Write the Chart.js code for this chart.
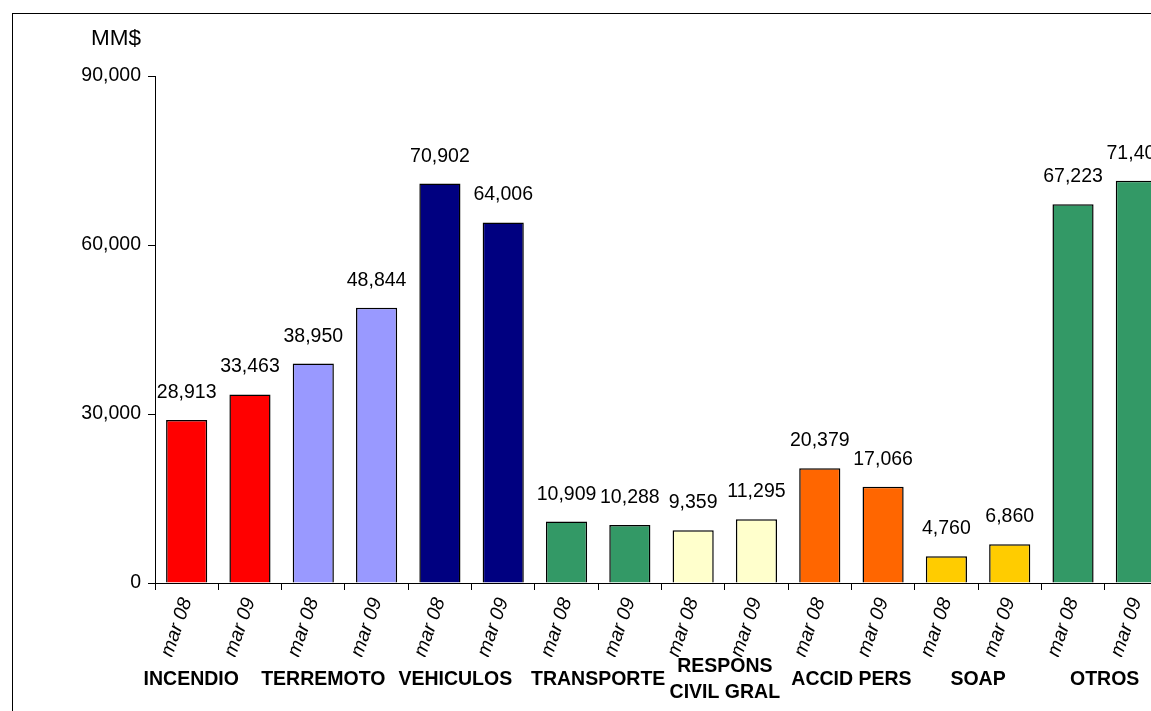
<!DOCTYPE html>
<html>
<head>
<meta charset="utf-8">
<script src="https://cdn.jsdelivr.net/npm/chart.js@4"></script>
<style>
  html, body { margin: 0; padding: 0; background: #fff; overflow: hidden; width: 1151px; height: 711px; }
  #frame { position: absolute; left: 12px; top: 13px; width: 1400px; height: 900px; border-left: 1px solid #000; border-top: 1px solid #000; }
  #wrap { position: absolute; left: 0; top: 0; width: 1180px; height: 711px; }
</style>
</head>
<body>
<div id="frame"></div>
<div id="wrap"><canvas id="chart"></canvas></div>
<script>
// ramos (groups), one pair of bars each
const groups = ['INCENDIO', 'TERREMOTO', 'VEHICULOS', 'TRANSPORTE', ['RESPONS', 'CIVIL GRAL'], 'ACCID PERS', 'SOAP', 'OTROS'];
const periods = ['mar 08', 'mar 09'];
const values = [28913, 33463, 38950, 48844, 70902, 64006, 10909, 10288, 9359, 11295, 20379, 17066, 4760, 6860, 67223, 71404];
const groupColors = ['#FF0000', '#9999FF', '#000080', '#339966', '#FFFFCC', '#FF6600', '#FFCC00', '#339966'];
const yTicks = [0, 30000, 60000, 90000];
// the first group names sit a bit left of their pair in the original
const groupShift = [10, 8, 6, 0, 0, 0, 0, 0];

const labels = [];
const colors = [];
groups.forEach((g, i) => {
    periods.forEach(p => {
        labels.push(p);
        colors.push(groupColors[i]);
    });
});
const groupLabels = groups.map((g, i) => Array.isArray(g) ? g : g + ' '.repeat(groupShift[i]));

const fontFam = '"Liberation Sans", Arial, sans-serif';

const barLabels = {
    id: 'barLabels',
    afterDatasetsDraw(chart) {
        const ctx = chart.ctx;
        const meta = chart.getDatasetMeta(0);
        ctx.save();
        ctx.font = '19.5px ' + fontFam;
        ctx.fillStyle = '#000';
        ctx.textAlign = 'center';
        ctx.textBaseline = 'alphabetic';
        meta.data.forEach((bar, i) => {
            ctx.fillText(values[i].toLocaleString('en-US'), bar.x, bar.y - 22);
        });
        // unit label over the y axis
        ctx.font = '22.5px ' + fontFam;
        ctx.textAlign = 'right';
        ctx.textBaseline = 'middle';
        ctx.fillText('MM$', 141, 39);
        ctx.restore();
    }
};

const config = {
    type: 'bar',
    data: {
        labels: labels,
        datasets: [{
            data: values,
            backgroundColor: colors,
            borderColor: '#000',
            borderWidth: 1.5,
            barPercentage: 0.65,
            categoryPercentage: 1.0,
        }]
    },
    options: {
        responsive: true,
        maintainAspectRatio: false,
        animation: false,
        layout: {
            padding: { left: 0, top: 76, right: 12, bottom: 0 }
        },
        plugins: {
            legend: { display: false },
            tooltip: { enabled: false },
        },
        scales: {
            x: {
                position: 'bottom',
                offset: true,
                grid: { display: true, drawOnChartArea: false, offset: true, color: '#000', tickLength: 7 },
                border: { display: true, color: '#000', width: 1 },
                ticks: {
                    autoSkip: false,
                    minRotation: 71,
                    maxRotation: 71,
                    padding: 5,
                    color: '#000',
                    font: { family: fontFam, size: 19.5, style: 'italic' },
                },
                afterFit(scale) { scale.height = 74; }
            },
            x2: {
                type: 'category',
                position: 'bottom',
                labels: groupLabels,
                offset: true,
                grid: { display: false, drawTicks: false },
                border: { display: false },
                ticks: {
                    autoSkip: false,
                    maxRotation: 0,
                    minRotation: 0,
                    padding: 10,
                    crossAlign: 'center',
                    color: '#000',
                    font: { family: fontFam, size: 19.5, weight: 'bold', lineHeight: 1.33 },
                },
                afterFit(scale) { scale.height = 54; }
            },
            y: {
                min: 0,
                max: 90000,
                afterBuildTicks(scale) { scale.ticks = yTicks.map(v => ({ value: v })); },
                grid: { display: true, drawOnChartArea: false, color: '#000', tickLength: 7 },
                border: { display: true, color: '#000', width: 1 },
                ticks: {
                    padding: 7,
                    color: '#000',
                    font: { family: fontFam, size: 19.5 },
                    callback: v => v.toLocaleString('en-US'),
                },
                afterFit(scale) { scale.width = 155; }
            }
        }
    },
    plugins: [barLabels]
};

const chart = new Chart(document.getElementById('chart'), config);
</script>
</body>
</html>
